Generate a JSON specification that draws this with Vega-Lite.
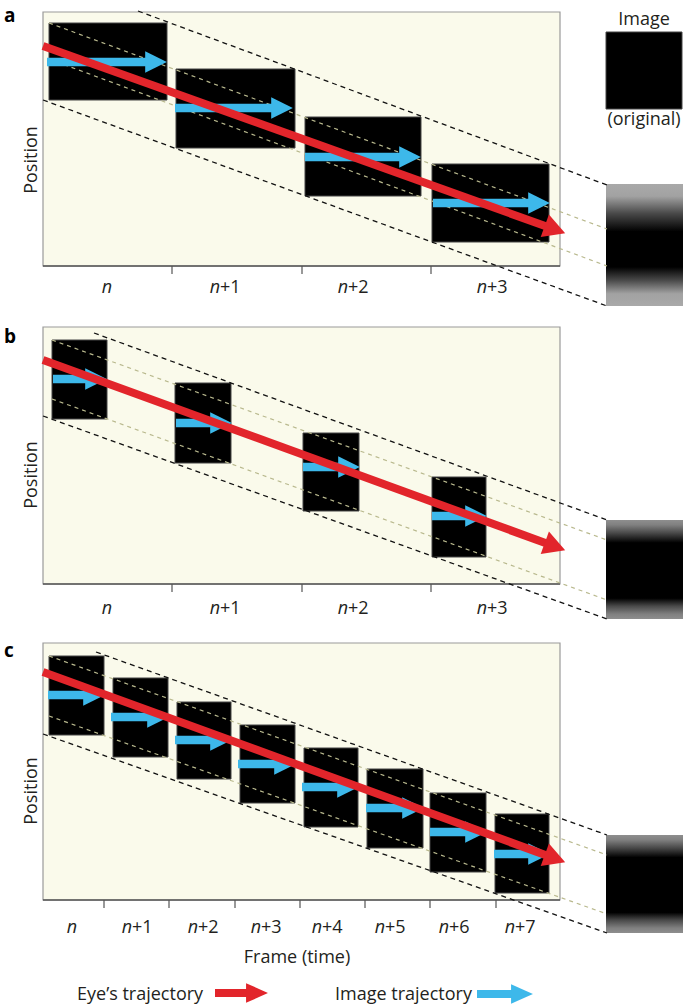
{
  "$schema": "https://vega.github.io/schema/vega-lite/v6.json",
  "width": 685,
  "height": 1006,
  "autosize": {"type": "fit", "contains": "padding"},
  "padding": 0,
  "background": "white",
  "config": {"view": {"stroke": null}, "text": {"font": "Open Sans", "color": "#231F20"}},
  "datasets": {
    "panels": [
      {"panel": "a", "x": 43, "x2": 560, "y": 12, "y2": 266},
      {"panel": "b", "x": 43, "x2": 560, "y": 327, "y2": 584},
      {"panel": "c", "x": 43, "x2": 560, "y": 643, "y2": 900}
    ],
    "axes": [
      {"panel": "a", "x": 43, "x2": 560, "y": 266},
      {"panel": "b", "x": 43, "x2": 560, "y": 584},
      {"panel": "c", "x": 43, "x2": 560, "y": 900}
    ],
    "ticks": [
      {"panel": "a", "x": 172, "y": 266, "y2": 274},
      {"panel": "a", "x": 302, "y": 266, "y2": 274},
      {"panel": "a", "x": 431, "y": 266, "y2": 274},
      {"panel": "b", "x": 172, "y": 584, "y2": 592},
      {"panel": "b", "x": 302, "y": 584, "y2": 592},
      {"panel": "b", "x": 431, "y": 584, "y2": 592},
      {"panel": "c", "x": 104, "y": 900, "y2": 908},
      {"panel": "c", "x": 169, "y": 900, "y2": 908},
      {"panel": "c", "x": 235, "y": 900, "y2": 908},
      {"panel": "c", "x": 300, "y": 900, "y2": 908},
      {"panel": "c", "x": 365, "y": 900, "y2": 908},
      {"panel": "c", "x": 430, "y": 900, "y2": 908},
      {"panel": "c", "x": 496, "y": 900, "y2": 908}
    ],
    "frames": [
      {"panel": "a", "frame": "n", "x": 49, "x2": 167, "y": 23, "y2": 100},
      {"panel": "a", "frame": "n+1", "x": 176, "x2": 295, "y": 69, "y2": 148},
      {"panel": "a", "frame": "n+2", "x": 305, "x2": 421, "y": 117, "y2": 196},
      {"panel": "a", "frame": "n+3", "x": 432, "x2": 549, "y": 164, "y2": 242},
      {"panel": "b", "frame": "n", "x": 52, "x2": 107, "y": 340, "y2": 419},
      {"panel": "b", "frame": "n+1", "x": 175, "x2": 231, "y": 383, "y2": 463},
      {"panel": "b", "frame": "n+2", "x": 303, "x2": 359, "y": 433, "y2": 511},
      {"panel": "b", "frame": "n+3", "x": 432, "x2": 486, "y": 477, "y2": 557},
      {"panel": "c", "frame": "n", "x": 49, "x2": 104, "y": 656, "y2": 735},
      {"panel": "c", "frame": "n+1", "x": 113, "x2": 168, "y": 678, "y2": 757},
      {"panel": "c", "frame": "n+2", "x": 177, "x2": 231, "y": 702, "y2": 779},
      {"panel": "c", "frame": "n+3", "x": 240, "x2": 295, "y": 725, "y2": 803},
      {"panel": "c", "frame": "n+4", "x": 304, "x2": 358, "y": 748, "y2": 827},
      {"panel": "c", "frame": "n+5", "x": 367, "x2": 423, "y": 769, "y2": 848},
      {"panel": "c", "frame": "n+6", "x": 430, "x2": 486, "y": 793, "y2": 872},
      {"panel": "c", "frame": "n+7", "x": 495, "x2": 549, "y": 814, "y2": 893},
      {"panel": "a", "frame": "original", "x": 606, "x2": 682, "y": 32, "y2": 109}
    ],
    "blurA": [
      {"panel": "a", "x": 606, "x2": 683, "y": 184, "y2": 306}
    ],
    "blurBC": [
      {"panel": "b", "x": 606, "x2": 683, "y": 520, "y2": 619},
      {"panel": "c", "x": 606, "x2": 683, "y": 835, "y2": 933}
    ],
    "innerGuides": [
      {"panel": "a", "x": 49, "y": 23, "x2": 607, "y2": 229},
      {"panel": "a", "x": 49, "y": 59, "x2": 607, "y2": 266},
      {"panel": "b", "x": 52, "y": 340, "x2": 607, "y2": 540},
      {"panel": "b", "x": 52, "y": 399, "x2": 607, "y2": 600},
      {"panel": "c", "x": 49, "y": 656, "x2": 607, "y2": 855},
      {"panel": "c", "x": 49, "y": 716, "x2": 607, "y2": 914}
    ],
    "outerGuides": [
      {"panel": "a", "x": 138, "y": 11, "x2": 607, "y2": 185},
      {"panel": "a", "x": 43, "y": 100, "x2": 607, "y2": 306},
      {"panel": "b", "x": 94, "y": 333, "x2": 607, "y2": 520},
      {"panel": "b", "x": 43, "y": 416, "x2": 607, "y2": 619},
      {"panel": "c", "x": 96, "y": 652, "x2": 607, "y2": 835},
      {"panel": "c", "x": 43, "y": 734, "x2": 607, "y2": 933}
    ],
    "imageTrajectory": [
      {"panel": "a", "frame": "n", "x": 47, "x2": 156, "y": 62},
      {"panel": "a", "frame": "n+1", "x": 175, "x2": 282, "y": 108},
      {"panel": "a", "frame": "n+2", "x": 305, "x2": 410, "y": 157},
      {"panel": "a", "frame": "n+3", "x": 433, "x2": 539, "y": 203},
      {"panel": "b", "frame": "n", "x": 53, "x2": 96, "y": 379},
      {"panel": "b", "frame": "n+1", "x": 176, "x2": 221, "y": 423},
      {"panel": "b", "frame": "n+2", "x": 303, "x2": 349, "y": 467},
      {"panel": "b", "frame": "n+3", "x": 432, "x2": 476, "y": 516},
      {"panel": "c", "frame": "n", "x": 48, "x2": 94, "y": 695},
      {"panel": "c", "frame": "n+1", "x": 111, "x2": 158, "y": 717},
      {"panel": "c", "frame": "n+2", "x": 175, "x2": 221, "y": 740},
      {"panel": "c", "frame": "n+3", "x": 238, "x2": 285, "y": 764},
      {"panel": "c", "frame": "n+4", "x": 302, "x2": 348, "y": 787},
      {"panel": "c", "frame": "n+5", "x": 366, "x2": 413, "y": 808},
      {"panel": "c", "frame": "n+6", "x": 430, "x2": 476, "y": 832},
      {"panel": "c", "frame": "n+7", "x": 494, "x2": 539, "y": 854}
    ],
    "eyeTrajectory": [
      {"panel": "a", "x": 43, "y": 46, "x2": 555, "y2": 229.5},
      {"panel": "b", "x": 43, "y": 360, "x2": 555, "y2": 546.5},
      {"panel": "c", "x": 43, "y": 672, "x2": 555, "y2": 858.5}
    ],
    "legendArrows": [
      {"series": "eye", "x": 215, "x2": 257, "y": 993},
      {"series": "image", "x": 477, "x2": 522, "y": 994}
    ],
    "letters": [
      {"t": "a", "x": 4, "y": 22},
      {"t": "b", "x": 4, "y": 343},
      {"t": "c", "x": 4, "y": 657}
    ],
    "positionTitles": [
      {"t": "Position", "x": 37, "y": 160},
      {"t": "Position", "x": 37, "y": 475},
      {"t": "Position", "x": 37, "y": 791}
    ],
    "tickLabels": [
      {"panel": "a", "n": "n", "suffix": "", "x": 112, "y": 293},
      {"panel": "a", "n": "n", "suffix": "+1", "x": 220, "y": 293},
      {"panel": "a", "n": "n", "suffix": "+2", "x": 348, "y": 293},
      {"panel": "a", "n": "n", "suffix": "+3", "x": 487, "y": 293},
      {"panel": "b", "n": "n", "suffix": "", "x": 112, "y": 614},
      {"panel": "b", "n": "n", "suffix": "+1", "x": 220, "y": 614},
      {"panel": "b", "n": "n", "suffix": "+2", "x": 348, "y": 614},
      {"panel": "b", "n": "n", "suffix": "+3", "x": 487, "y": 614},
      {"panel": "c", "n": "n", "suffix": "", "x": 77, "y": 933},
      {"panel": "c", "n": "n", "suffix": "+1", "x": 132, "y": 933},
      {"panel": "c", "n": "n", "suffix": "+2", "x": 198, "y": 933},
      {"panel": "c", "n": "n", "suffix": "+3", "x": 261, "y": 933},
      {"panel": "c", "n": "n", "suffix": "+4", "x": 322, "y": 933},
      {"panel": "c", "n": "n", "suffix": "+5", "x": 385, "y": 933},
      {"panel": "c", "n": "n", "suffix": "+6", "x": 449, "y": 933},
      {"panel": "c", "n": "n", "suffix": "+7", "x": 515, "y": 933}
    ],
    "centerTexts": [
      {"t": "Frame (time)", "x": 297, "y": 963},
      {"t": "Image", "x": 644, "y": 25},
      {"t": "(original)", "x": 644, "y": 125}
    ],
    "legendTexts": [
      {"t": "Eye’s trajectory", "x": 77, "y": 1000},
      {"t": "Image trajectory", "x": 335, "y": 1000}
    ]
  },
  "encoding": {
    "x": {"field": "x", "type": "quantitative", "scale": {"domain": [0, 685], "nice": false, "zero": false}, "axis": null},
    "y": {"field": "y", "type": "quantitative", "scale": {"domain": [0, 1006], "reverse": true, "nice": false, "zero": false}, "axis": null}
  },
  "layer": [
    {
      "data": {"name": "panels"},
      "mark": {"type": "rect", "fill": "#FAFAEB", "stroke": "#9a9a9a", "strokeWidth": 1.2},
      "encoding": {"x2": {"field": "x2"}, "y2": {"field": "y2"}}
    },
    {
      "data": {"name": "axes"},
      "mark": {"type": "rule", "stroke": "#555555", "strokeWidth": 1.4},
      "encoding": {"x2": {"field": "x2"}}
    },
    {
      "data": {"name": "ticks"},
      "mark": {"type": "rule", "stroke": "#555555", "strokeWidth": 1.2},
      "encoding": {"y2": {"field": "y2"}}
    },
    {
      "data": {"name": "frames"},
      "mark": {"type": "rect", "fill": "#000000", "stroke": "#444444", "strokeWidth": 1},
      "encoding": {"x2": {"field": "x2"}, "y2": {"field": "y2"}}
    },
    {
      "data": {"name": "blurA"},
      "mark": {
        "type": "rect",
        "fill": {
          "gradient": "linear", "x1": 0, "y1": 0, "x2": 0, "y2": 1,
          "stops": [
            {"offset": 0, "color": "#a9a9a9"},
            {"offset": 0.1, "color": "#a2a2a2"},
            {"offset": 0.24, "color": "#4a4a4a"},
            {"offset": 0.39, "color": "#000000"},
            {"offset": 0.68, "color": "#000000"},
            {"offset": 0.79, "color": "#4a4a4a"},
            {"offset": 0.9, "color": "#a2a2a2"},
            {"offset": 1, "color": "#a9a9a9"}
          ]
        }
      },
      "encoding": {"x2": {"field": "x2"}, "y2": {"field": "y2"}}
    },
    {
      "data": {"name": "blurBC"},
      "mark": {
        "type": "rect",
        "fill": {
          "gradient": "linear", "x1": 0, "y1": 0, "x2": 0, "y2": 1,
          "stops": [
            {"offset": 0, "color": "#8e8e8e"},
            {"offset": 0.05, "color": "#808080"},
            {"offset": 0.13, "color": "#4a4a4a"},
            {"offset": 0.23, "color": "#000000"},
            {"offset": 0.79, "color": "#000000"},
            {"offset": 0.87, "color": "#4a4a4a"},
            {"offset": 0.95, "color": "#808080"},
            {"offset": 1, "color": "#8e8e8e"}
          ]
        }
      },
      "encoding": {"x2": {"field": "x2"}, "y2": {"field": "y2"}}
    },
    {
      "data": {"name": "innerGuides"},
      "mark": {"type": "rule", "stroke": "#b9b98e", "strokeWidth": 1.2, "strokeDash": [4, 4]},
      "encoding": {"x2": {"field": "x2"}, "y2": {"field": "y2"}}
    },
    {
      "data": {"name": "outerGuides"},
      "mark": {"type": "rule", "stroke": "#111111", "strokeWidth": 1.3, "strokeDash": [5, 4]},
      "encoding": {"x2": {"field": "x2"}, "y2": {"field": "y2"}}
    },
    {
      "data": {"name": "imageTrajectory"},
      "mark": {"type": "rule", "stroke": "#3DB8EA", "strokeWidth": 8.5},
      "encoding": {"x2": {"field": "x2"}}
    },
    {
      "data": {"name": "imageTrajectory"},
      "mark": {"type": "point", "shape": "M-0.9,-0.9L0.9,0L-0.9,0.9Z", "size": 580, "filled": true, "fill": "#3DB8EA", "strokeWidth": 0, "opacity": 1},
      "encoding": {
        "x": {"field": "x2", "type": "quantitative", "scale": {"domain": [0, 685], "nice": false, "zero": false}, "axis": null}
      }
    },
    {
      "data": {"name": "eyeTrajectory"},
      "mark": {"type": "rule", "stroke": "#E2252B", "strokeWidth": 8},
      "encoding": {"x2": {"field": "x2"}, "y2": {"field": "y2"}}
    },
    {
      "data": {"name": "eyeTrajectory"},
      "mark": {"type": "point", "shape": "M-0.9,-1L0.9,0L-0.9,1Z", "size": 580, "angle": 20, "filled": true, "fill": "#E2252B", "strokeWidth": 0, "opacity": 1},
      "encoding": {
        "x": {"field": "x2", "type": "quantitative", "scale": {"domain": [0, 685], "nice": false, "zero": false}, "axis": null},
        "y": {"field": "y2", "type": "quantitative", "scale": {"domain": [0, 1006], "reverse": true, "nice": false, "zero": false}, "axis": null}
      }
    },
    {
      "data": {"name": "legendArrows"},
      "mark": {"type": "rule", "strokeWidth": 8},
      "encoding": {
        "x2": {"field": "x2"},
        "color": {"field": "series", "type": "nominal", "scale": {"domain": ["eye", "image"], "range": ["#E2252B", "#3DB8EA"]}, "legend": null}
      }
    },
    {
      "data": {"name": "legendArrows"},
      "mark": {"type": "point", "shape": "M-1,-0.9L1,0L-1,0.9Z", "size": 480, "filled": true, "strokeWidth": 0, "opacity": 1},
      "encoding": {
        "x": {"field": "x2", "type": "quantitative", "scale": {"domain": [0, 685], "nice": false, "zero": false}, "axis": null},
        "color": {"field": "series", "type": "nominal", "scale": {"domain": ["eye", "image"], "range": ["#E2252B", "#3DB8EA"]}, "legend": null}
      }
    },
    {
      "data": {"name": "letters"},
      "mark": {"type": "text", "fontSize": 19, "fontWeight": "bold", "align": "left", "baseline": "alphabetic", "color": "#000000"},
      "encoding": {"text": {"field": "t"}}
    },
    {
      "data": {"name": "positionTitles"},
      "mark": {"type": "text", "fontSize": 18, "angle": 270, "align": "center", "baseline": "alphabetic"},
      "encoding": {"text": {"field": "t"}}
    },
    {
      "data": {"name": "tickLabels"},
      "mark": {"type": "text", "fontSize": 18, "fontStyle": "italic", "align": "right", "baseline": "alphabetic"},
      "encoding": {"text": {"field": "n"}}
    },
    {
      "data": {"name": "tickLabels"},
      "mark": {"type": "text", "fontSize": 18, "align": "left", "baseline": "alphabetic"},
      "encoding": {"text": {"field": "suffix"}}
    },
    {
      "data": {"name": "centerTexts"},
      "mark": {"type": "text", "fontSize": 18, "align": "center", "baseline": "alphabetic"},
      "encoding": {"text": {"field": "t"}}
    },
    {
      "data": {"name": "legendTexts"},
      "mark": {"type": "text", "fontSize": 18, "align": "left", "baseline": "alphabetic"},
      "encoding": {"text": {"field": "t"}}
    }
  ]
}
